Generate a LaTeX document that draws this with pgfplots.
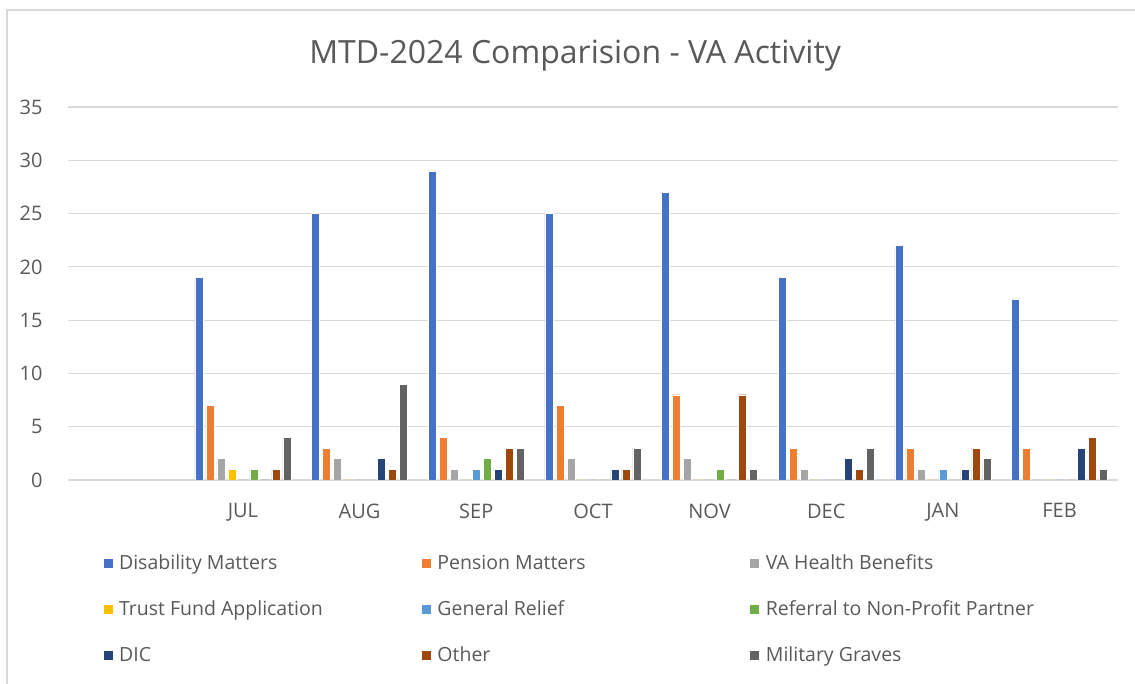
\documentclass[border=0pt]{standalone}
\usepackage{pgfplots}
\pgfplotsset{compat=1.18}
\usepackage{fontspec}
\setmainfont{Open Sans}
\definecolor{cDis}{HTML}{4472C4}
\definecolor{cPen}{HTML}{ED7D31}
\definecolor{cVAH}{HTML}{A5A5A5}
\definecolor{cTru}{HTML}{FFC000}
\definecolor{cGen}{HTML}{5B9BD5}
\definecolor{cRef}{HTML}{70AD47}
\definecolor{cDIC}{HTML}{264478}
\definecolor{cOth}{HTML}{9E480E}
\definecolor{cMil}{HTML}{636363}
\definecolor{txt}{HTML}{595959}
\definecolor{grd}{HTML}{D9D9D9}
\begin{document}
\begin{tikzpicture}
\useasboundingbox (0pt,0pt) rectangle (1135pt,684pt);
\draw[grd, line width=2pt] (7pt,0pt) -- (7pt,674pt) -- (1135pt,674pt);
\begin{axis}[
  at={(68pt,204pt)}, anchor=south west,
  scale only axis, width=1050pt, height=373pt,
  ymin=0, ymax=35, ytick={0,5,...,35},
  xmin=-0.5, xmax=8.5,
  xtick={1,...,8}, xticklabels={JUL,AUG,SEP,OCT,NOV,DEC,JAN,FEB},
  ybar=3pt, bar width=8pt,
  axis line style={draw=none},
  axis x line*=bottom,
  major tick length=0pt,
  ymajorgrids, grid style={grd, line width=1.2pt},
  ticklabel style={font=\fontsize{20}{24}\selectfont, text=txt},
  /pgf/number format/assume math mode=true,
  yticklabel style={xshift=-22pt},
  xticklabel style={yshift=-20pt},
  title={MTD-2024 Comparision - VA Activity},
  title style={at={(0.483,1.123)}, anchor=center, font=\fontsize{32}{38}\selectfont, text=txt},
  legend columns=3,
  legend cell align=left,
  legend style={at={(0.03,-0.19)}, anchor=north west, draw=none, fill=none,
    font=\fontsize{19.5}{23}\selectfont, text=txt,
    /tikz/every even column/.style={column sep=2pt},
    /tikz/every odd column/.style={column sep=4pt},
    row sep=25.5pt},
  legend image code/.code={\fill[#1] (0pt,-5pt) rectangle (10pt,5pt);},
  every axis plot/.append style={draw=white, line width=0.4pt},
]
\addplot[fill=cDis] coordinates {(1,19) (2,25) (3,29) (4,25) (5,27) (6,19) (7,22) (8,17)};
\addplot[fill=cPen] coordinates {(1,7) (2,3) (3,4) (4,7) (5,8) (6,3) (7,3) (8,3)};
\addplot[fill=cVAH] coordinates {(1,2) (2,2) (3,1) (4,2) (5,2) (6,1) (7,1) (8,0)};
\addplot[fill=cTru] coordinates {(1,1) (2,0) (3,0) (4,0) (5,0) (6,0) (7,0) (8,0)};
\addplot[fill=cGen] coordinates {(1,0) (2,0) (3,1) (4,0) (5,0) (6,0) (7,1) (8,0)};
\addplot[fill=cRef] coordinates {(1,1) (2,0) (3,2) (4,0) (5,1) (6,0) (7,0) (8,0)};
\addplot[fill=cDIC] coordinates {(1,0) (2,2) (3,1) (4,1) (5,0) (6,2) (7,1) (8,3)};
\addplot[fill=cOth] coordinates {(1,1) (2,1) (3,3) (4,1) (5,8) (6,1) (7,3) (8,4)};
\addplot[fill=cMil] coordinates {(1,4) (2,9) (3,3) (4,3) (5,1) (6,3) (7,2) (8,1)};
\legend{\makebox[298pt][l]{Disability Matters},\makebox[308pt][l]{Pension Matters},VA Health Benefits,
  Trust Fund Application,General Relief,Referral to Non-Profit Partner,
  DIC,Other,Military Graves}
\end{axis}
\end{tikzpicture}
\end{document}
